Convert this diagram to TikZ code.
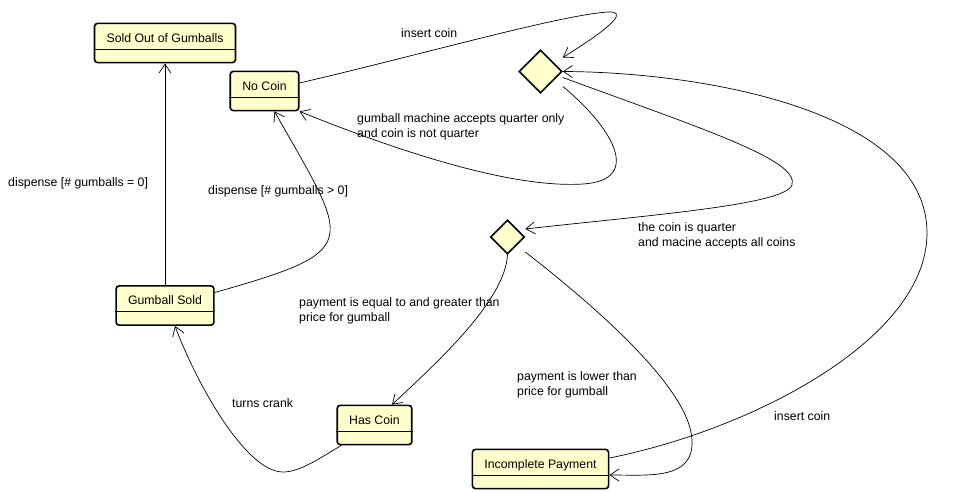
\documentclass[tikz,border=0pt]{standalone}
\usepackage{fontspec}
\setmainfont{Liberation Sans}
\usetikzlibrary{arrows.meta,shapes.geometric,shapes.multipart}
\definecolor{statefill}{RGB}{255,255,204}
\newcommand{\statestrut}{\rule[-3pt]{0pt}{18pt}}

\begin{document}
\begin{tikzpicture}[x=1pt,y=-1pt,>={Straight Barb[length=9pt,width=12pt]},
    state/.style={rectangle split,rectangle split parts=2,rectangle split draw splits=false,
        rectangle split empty part height=6pt,rectangle split empty part depth=0pt,
        draw,line width=1.6pt,rounded corners=3pt,fill=statefill,
        inner xsep=12pt,inner ysep=3pt,font=\fontsize{12.3}{15}\selectfont},
    choice/.style={diamond,draw,line width=1.6pt,fill=statefill,inner sep=0pt},
    trans/.style={->,line width=0.7pt},
    lbl/.style={anchor=base west,inner sep=0pt,align=left,font=\fontsize{12.3}{15}\selectfont}]
    \useasboundingbox (0,0) rectangle (954,491);

    \node[state] (soldout) at (165,43) {\statestrut Sold Out of Gumballs\nodepart{two}};
    \node[state] (nocoin) at (264.5,91) {\statestrut No Coin\nodepart{two}};
    \node[state] (sold) at (165,305.5) {\statestrut Gumball Sold\nodepart{two}};
    \node[state] (hascoin) at (374.5,425) {\statestrut Has Coin\nodepart{two}};
    \node[state] (incomplete) at (540.5,469) {\statestrut Incomplete Payment\nodepart{two}};
    \node[choice,minimum size=43pt] (d1) at (540.5,71.5) {};
    \node[choice,minimum size=34pt] (d2) at (507.5,237) {};

    \foreach \s in {soldout,nocoin,sold,hascoin,incomplete}
        \draw[line width=0.8pt] (\s.text split west) -- (\s.text split east);

    \draw[trans] (sold.north) -- (soldout.south);
    \draw[trans] ([yshift=13pt]sold.east) .. controls (365,250) and (350,245) .. ([xshift=10pt]nocoin.south);
    \draw[trans] ([yshift=8pt]nocoin.east) .. controls (420,55) and (560,15) .. (608,12)
        .. controls (625,11) and (620,22) .. ([yshift=14pt]d1.east);
    \draw[trans] ([yshift=-15pt]d1.east) .. controls (610,125) and (645,180) .. (583,184)
        .. controls (520,188) and (420,160) .. (nocoin.south east);
    \draw[trans] ([yshift=-6pt]d1.east) .. controls (700,128) and (800,160) .. (792,185)
        .. controls (785,205) and (650,215) .. ([yshift=8pt]d2.east);
    \draw[trans] ([yshift=11pt]incomplete.east) .. controls (750,430) and (927,340) .. (927,233)
        .. controls (927,110) and (700,72) .. (d1.east);
    \draw[trans] (d2.south) .. controls (505,300) and (440,360) .. ([xshift=17.5pt]hascoin.north);
    \draw[trans] ([yshift=-15pt]d2.east) .. controls (600,310) and (690,390) .. (692,440)
        .. controls (694,480) and (650,475) .. ([yshift=-6pt]incomplete.east);
    \draw[trans] ([xshift=5pt]hascoin.south west) .. controls (320,458) and (300,472) .. (283,472)
        .. controls (245,472) and (195,380) .. ([xshift=10pt]sold.south);

    % transition labels
    \node[lbl] (l1) at (8,186) {dispense [\# gumballs = 0]};
    \node[lbl] (l2) at (208,194.5) {dispense [\# gumballs > 0]};
    \node[lbl] (l3) at (401,37.5) {insert coin};
    \node[lbl] (l4) at (357,137) {gumball machine accepts quarter only\\and coin is not quarter};
    \node[lbl] (l5) at (638,246.5) {the coin is quarter\\and macine accepts all coins};
    \node[lbl] (l6) at (299,321.5) {payment is equal to and greater than\\price for gumball};
    \node[lbl] (l7) at (517,395) {payment is lower than\\price for gumball};
    \node[lbl] (l8) at (774,420.5) {insert coin};
    \node[lbl] (l9) at (232,407) {turns crank};
\end{tikzpicture}
\end{document}
